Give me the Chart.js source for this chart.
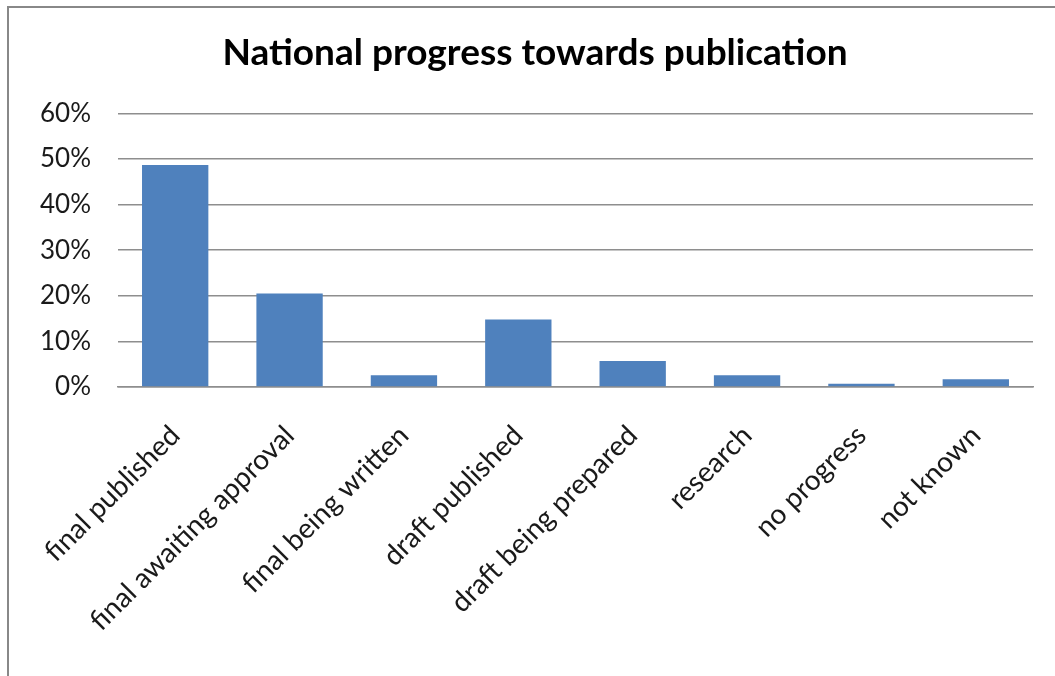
<!DOCTYPE html>
<html>
<head>
<meta charset="utf-8">
<title>National progress towards publication</title>
<script src="https://cdn.jsdelivr.net/npm/chart.js@4/dist/chart.umd.min.js"></script>
<style>
  html, body { margin: 0; padding: 0; background: #fff; }
  #frame {
    position: absolute;
    left: 7px;
    top: 6px;
    width: 1048px;
    height: 670px;
    border-left: 2px solid #888;
    border-top: 2px solid #888;
  }
  #chart { position: absolute; left: 0; top: 0; }
</style>
</head>
<body>
<div id="frame"></div>
<canvas id="chart" width="1055" height="676"></canvas>
<script>
// stages of the national publication process
const stages = [
  "final published",
  "final awaiting approval",
  "final being written",
  "draft published",
  "draft being prepared",
  "research",
  "no progress",
  "not known",
];
// share of countries at each stage, percent
const shares = [48.7, 20.5, 2.6, 14.8, 5.7, 2.6, 0.7, 1.7];
const yTicks = [0, 10, 20, 30, 40, 50, 60];

const gridGrey = "#8e8e8e";
const barBlue = "#4F81BD";

// the title sits centred on the whole frame, not the plot, so widen its box
const titleShift = {
  id: "titleShift",
  afterLayout(chart) {
    const t = chart.titleBlock;
    if (t) {
      t.left = 37;
      t.right = 1033;
    }
  },
};

const config = {
  type: "bar",
  data: {
    labels: stages,
    datasets: [
      {
        data: shares,
        backgroundColor: barBlue,
        borderWidth: 0,
        barPercentage: 0.58,
        categoryPercentage: 1,
      },
    ],
  },
  plugins: [titleShift],
  options: {
    responsive: false,
    animation: false,
    layout: {
      padding: { top: 0, right: 22, left: 0, bottom: 0 },
    },
    plugins: {
      legend: { display: false },
      tooltip: { enabled: false },
      title: {
        display: true,
        text: "National progress towards publication",
        color: "#000",
        font: { family: "Lato", size: 37, weight: "bold" },
        padding: { top: 31, bottom: 38 },
      },
    },
    scales: {
      x: {
        grid: { display: false },
        border: { display: true, color: gridGrey, width: 1.5 },
        ticks: {
          color: "#1a1a1a",
          font: { family: "Lato", size: 28 },
          maxRotation: 45,
          minRotation: 45,
          padding: 24,
        },
        afterFit: (scale) => {
          scale.height = 676 - 387;
        },
      },
      y: {
        min: 0,
        max: 60,
        afterBuildTicks: (scale) => {
          scale.ticks = yTicks.map((v) => ({ value: v }));
        },
        grid: { color: gridGrey, lineWidth: 1.5, drawTicks: false },
        border: { display: false },
        ticks: {
          color: "#1a1a1a",
          font: { family: "Lato", size: 26 },
          padding: 27,
          callback: (v) => v + "%",
        },
        afterFit: (scale) => {
          scale.width = 118;
        },
      },
    },
  },
};

new Chart(document.getElementById("chart"), config);
</script>
</body>
</html>
